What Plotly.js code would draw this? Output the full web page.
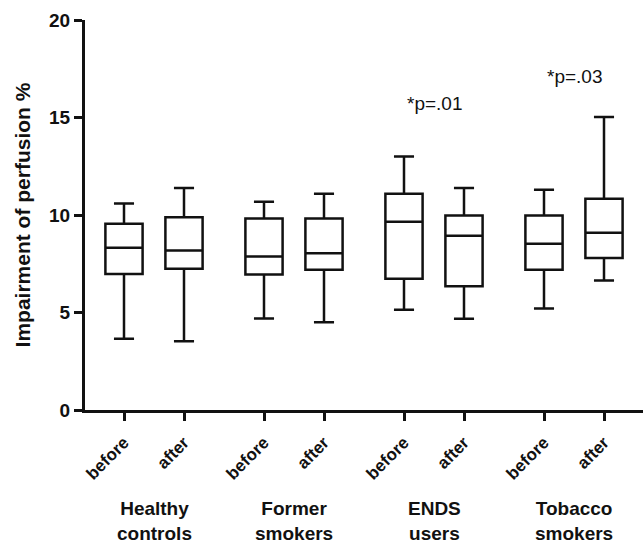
<!DOCTYPE html>
<html>
<head>
<meta charset="utf-8">
<script src="https://cdn.plot.ly/plotly-3.0.1.min.js"></script>
<style>html,body{margin:0;padding:0;background:#fff;}#chart{width:643px;height:544px;}</style>
</head>
<body>
<div id="chart"></div>
<script>
// Data
const groups = ["Healthy<br>controls", "Former<br>smokers", "ENDS<br>users", "Tobacco<br>smokers"];
const conditions = ["before", "after"];
const lowerWhisker = [3.65, 3.53, 4.69, 4.50, 5.14, 4.68, 5.21, 6.64];
const q1Values     = [6.98, 7.24, 6.95, 7.19, 6.73, 6.35, 7.19, 7.79];
const medianValues = [8.32, 8.18, 7.87, 8.04, 9.65, 8.93, 8.52, 9.09];
const q3Values     = [9.55, 9.89, 9.82, 9.82, 11.09, 9.97, 9.97, 10.83];
const upperWhisker = [10.59, 11.39, 10.68, 11.09, 13.0, 11.38, 11.29, 15.02];
const pLabels = [{group: 2, text: "*p=.01", y: 15.7}, {group: 3, text: "*p=.03", y: 17.1}];

const groupStep = 140 / 60;
const xs = [], tickText = [];
groups.forEach((g, gi) => conditions.forEach((c, ci) => { xs.push(gi * groupStep + ci); tickText.push(c); }));

const font = "Arial, 'Liberation Sans', sans-serif";
const trace = {
  type: "box",
  x: xs,
  q1: q1Values,
  median: medianValues,
  q3: q3Values,
  lowerfence: lowerWhisker,
  upperfence: upperWhisker,
  width: 0.62,
  whiskerwidth: 0.54,
  fillcolor: "#ffffff",
  line: {color: "#111111", width: 2.5},
  boxpoints: false,
  hoverinfo: "skip",
  showlegend: false
};

const annotations = [];
groups.forEach((g, gi) => {
  annotations.push({
    x: gi * groupStep + 0.5, xref: "x", y: -0.22, yref: "paper",
    text: "<b>" + g + "</b>", showarrow: false, yanchor: "top",
    font: {family: font, size: 19, color: "#111"}, align: "center"
  });
});
pLabels.forEach(p => {
  annotations.push({
    x: p.group * groupStep + 0.5, xref: "x", y: p.y, yref: "y",
    text: p.text, showarrow: false, font: {family: font, size: 19, color: "#111"}
  });
});

const layout = {
  width: 643, height: 544,
  margin: {l: 85, r: 0, t: 20, b: 134},
  paper_bgcolor: "#fff", plot_bgcolor: "#fff",
  font: {family: font, color: "#111"},
  xaxis: {
    range: [-0.65, 8.65],
    tickvals: xs, ticktext: tickText.map(t => "<b>" + t + "</b>"),
    tickangle: -45, tickfont: {family: font, size: 17, color: "#111"},
    ticklabelstandoff: 5,
    showline: true, linewidth: 3, linecolor: "#111",
    ticks: "outside", ticklen: 8, tickwidth: 3, tickcolor: "#111",
    showgrid: false, zeroline: false, fixedrange: true
  },
  yaxis: {
    range: [0, 20], tickvals: [0, 5, 10, 15, 20],
    ticktext: ["<b>0</b>", "<b>5</b>", "<b>10</b>", "<b>15</b>", "<b>20</b>"],
    tickfont: {family: font, size: 19, color: "#111"},
    showline: true, linewidth: 3, linecolor: "#111",
    ticks: "outside", ticklen: 8, tickwidth: 3, tickcolor: "#111",
    showgrid: false, zeroline: false,
    title: {text: "<b>Impairment of perfusion %</b>", font: {family: font, size: 21, color: "#111"}, standoff: 13}
  },
  annotations: annotations
};

Plotly.newPlot("chart", [trace], layout, {displayModeBar: false, staticPlot: true});
</script>
</body>
</html>
